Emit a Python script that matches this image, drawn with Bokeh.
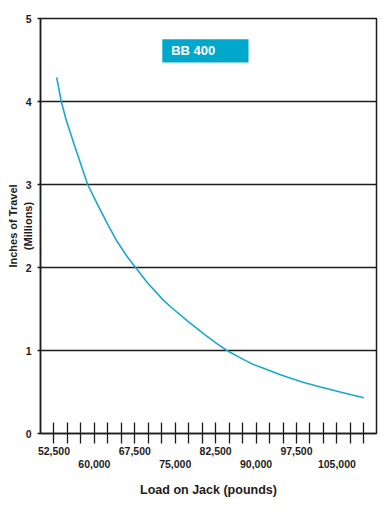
from bokeh.plotting import figure
from bokeh.models import LinearAxis, FixedTicker, Label, BoxAnnotation, Range1d
from bokeh.embed import file_html
from bokeh.resources import INLINE

# ---- data ----
load = [53000, 53850, 54800, 56200, 58750, 60500, 62400, 64250, 66100, 67650,
        69800, 72750, 74100, 77200, 80300, 82800, 84600, 87700, 89550, 91400,
        94400, 95750, 98850, 101950, 106900, 110000]
travel = [4.29, 4.00, 3.77, 3.49, 3.00, 2.77, 2.53, 2.31, 2.13, 2.00,
          1.82, 1.61, 1.53, 1.36, 1.20, 1.08, 1.00, 0.89, 0.83, 0.785,
          0.71, 0.68, 0.615, 0.56, 0.48, 0.43]
series_name = "BB 400"

y_ticks = [0, 1, 2, 3, 4, 5]
x_ticks = list(range(52500, 110001, 2500))
x_labels_row1 = [52500, 67500, 82500, 97500]
x_labels_row2 = [60000, 75000, 90000, 105000]
x_title = "Load on Jack (pounds)"
y_title = "Inches of Travel\n(Millions)"

# ---- style ----
FONT = "Liberation Sans"
INK = "#1c1c1c"
LINE_CYAN = "#1AA7D0"
BOX_CYAN = "#00A8CC"

p = figure(width=380, height=510,
           x_range=Range1d(50000, 112350), y_range=Range1d(0, 5),
           output_backend="svg", toolbar_location=None,
           min_border_left=40, min_border_right=4,
           min_border_top=18, min_border_bottom=77)
p.background_fill_color = "white"
p.border_fill_color = "white"
p.outline_line_color = INK
p.outline_line_width = 1.5

p.xgrid.visible = False
p.ygrid.ticker = FixedTicker(ticks=[1, 2, 3, 4])
p.ygrid.grid_line_color = INK
p.ygrid.grid_line_width = 1.3

# y axis (title tucked in between the tick labels, as in the reference)
ya = p.yaxis[0]
ya.ticker = FixedTicker(ticks=y_ticks)
ya.major_tick_in = 0
ya.major_tick_out = 3
ya.minor_tick_line_color = None
ya.axis_line_color = INK
ya.axis_line_width = 1.5
ya.major_tick_line_color = INK
ya.major_tick_line_width = 1.3
ya.major_label_standoff = 6
ya.major_label_text_font = FONT
ya.major_label_text_font_style = "bold"
ya.major_label_text_font_size = "10.5px"
ya.major_label_text_color = INK
ya.axis_label = y_title
ya.axis_label_standoff = -11
ya.axis_label_text_font = FONT
ya.axis_label_text_font_style = "bold"
ya.axis_label_text_font_size = "11px"
ya.axis_label_text_color = INK
ya.axis_label_text_align = "center"

# x axis row 1 (ticks every 2,500)
xa = p.xaxis[0]
xa.ticker = FixedTicker(ticks=x_ticks)
xa.major_tick_in = 11
xa.major_tick_out = 10
xa.minor_tick_line_color = None
xa.axis_line_color = INK
xa.axis_line_width = 1.5
xa.major_tick_line_color = INK
xa.major_tick_line_width = 1.3
xa.major_label_overrides = {t: (f"{t:,}" if t in x_labels_row1 else "") for t in x_ticks}
xa.major_label_standoff = 3
xa.major_label_text_font = FONT
xa.major_label_text_font_style = "bold"
xa.major_label_text_font_size = "10.5px"
xa.major_label_text_color = INK

# x axis row 2 (staggered labels + title)
xb = LinearAxis(ticker=FixedTicker(ticks=x_labels_row2))
xb.major_label_overrides = {t: f"{t:,}" for t in x_labels_row2}
xb.major_tick_line_color = None
xb.minor_tick_line_color = None
xb.axis_line_color = None
xb.major_tick_in = 0
xb.major_tick_out = 0
xb.major_label_standoff = 2
xb.major_label_text_font = FONT
xb.major_label_text_font_style = "bold"
xb.major_label_text_font_size = "10.5px"
xb.major_label_text_color = INK
xb.axis_label = x_title
xb.axis_label_standoff = 12
xb.axis_label_text_font = FONT
xb.axis_label_text_font_style = "bold"
xb.axis_label_text_font_size = "12.5px"
xb.axis_label_text_color = INK
p.add_layout(xb, "below")

# series curve
p.line(load, travel, line_color=LINE_CYAN, line_width=1.6)

# series name box
p.add_layout(BoxAnnotation(left=72600, right=88600, bottom=4.47, top=4.75,
                           fill_color=BOX_CYAN, fill_alpha=1.0, line_color=None))
p.add_layout(Label(x=74250, y=4.61, text=series_name,
                   text_align="left", text_baseline="middle",
                   text_font=FONT, text_font_style="bold",
                   text_font_size="13px", text_color="white"))

open("out.html", "w").write(file_html(p, INLINE))
